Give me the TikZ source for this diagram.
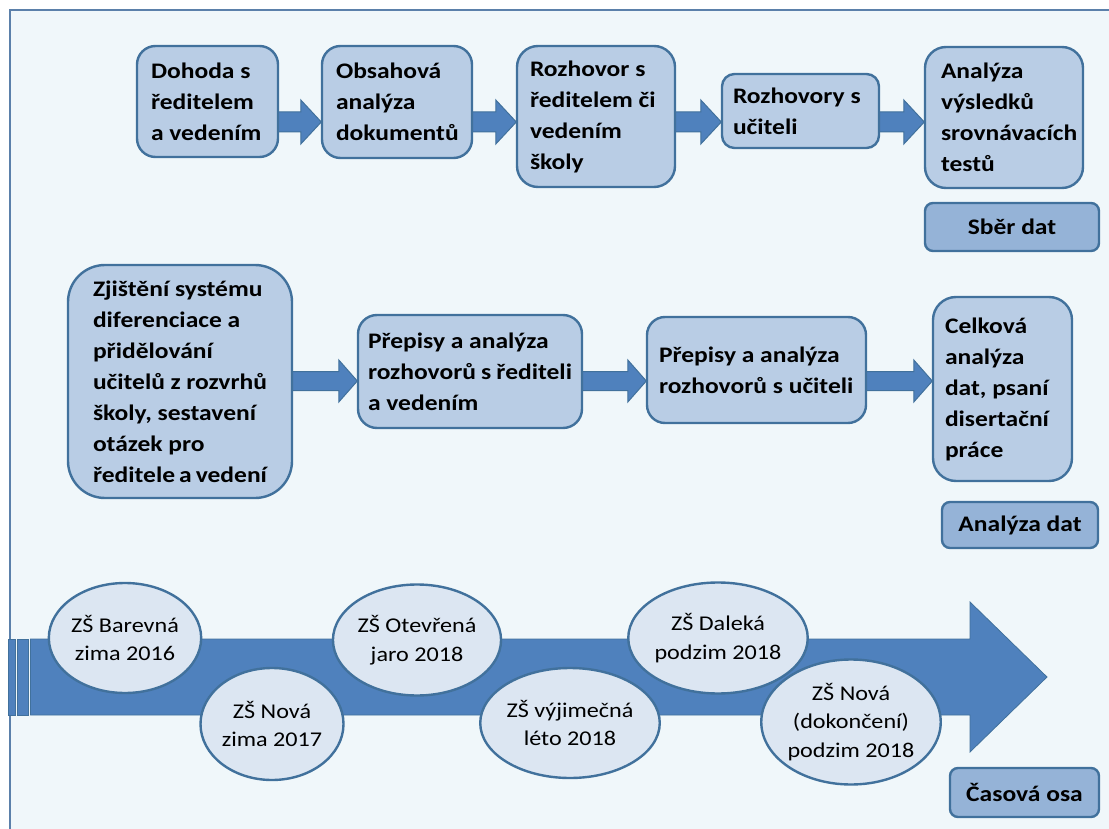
\documentclass[tikz,border=0pt]{standalone}
\usepackage{fontspec}
\setmainfont{Carlito}[FakeStretch=1.15]
\usetikzlibrary{shapes.geometric,calc}
\definecolor{bgcol}{HTML}{F0F7FA}
\definecolor{framecol}{HTML}{5B80AA}
\definecolor{boxfill}{HTML}{B9CDE5}
\definecolor{boxline}{HTML}{41719C}
\definecolor{tagfill}{HTML}{95B3D7}
\definecolor{arrfill}{HTML}{4F81BD}
\definecolor{arrline}{HTML}{41719C}
\definecolor{ellfill}{HTML}{DCE6F2}
\pgfdeclarelayer{bg}
\pgfdeclarelayer{arr}
\pgfsetlayers{bg,arr,main}
\tikzset{
  stepbox/.style={draw=boxline, fill=boxfill, line width=2.4pt, inner sep=0pt,
    align=flush left, font={\fontsize{22.2}{31}\selectfont\bfseries}, text=black},
  tagbox/.style={stepbox, fill=tagfill, align=flush center},
  school/.style={ellipse, draw=boxline, fill=ellfill, line width=2.4pt, inner sep=0pt,
    align=flush center, font={\fontsize{21}{28.5}\selectfont}, text=black},
  barrow/.style={fill=arrfill, draw=arrline, line width=1pt, line join=miter},
  tlarrow/.style={fill=arrfill, draw=arrline, line width=0.8pt, line join=miter},
}
% block arrow: from node, to node, level coordinate, shaft half, head half, head length
\newcommand\blockarrow[6]{%
  \begin{pgfonlayer}{arr}
  \draw[barrow] ($(#1.east |- #3)+(-4,-#4)$) -- ($(#2.west |- #3)+(-#6,-#4)$)
    -- ($(#2.west |- #3)+(-#6,-#5)$) -- ($(#2.west |- #3)+(0.5,0)$)
    -- ($(#2.west |- #3)+(-#6,#5)$) -- ($(#2.west |- #3)+(-#6,#4)$)
    -- ($(#1.east |- #3)+(-4,#4)$) -- cycle;
  \end{pgfonlayer}}
\begin{document}
\begin{tikzpicture}[x=1pt,y=-1pt]
\useasboundingbox (0,0) rectangle (1109,829);
\begin{pgfonlayer}{bg}
  \fill[white] (0,0) rectangle (1109,829);
  \fill[bgcol] (10,10) rectangle (1109,829);
  \draw[framecol, line width=1.6pt] (10,829) -- (10,10) -- (1109,10);
\end{pgfonlayer}

% level coordinates for arrows
\coordinate (r1) at (0,122);
\coordinate (r2) at (0,381);

% row 1
\node[stepbox, minimum width=141, minimum height=111, text width=113, rounded corners=18.5] (b1) at (207.5,101.5)
  {Dohoda~s\\ředitelem\\a~vedením};
\node[stepbox, minimum width=150, minimum height=112, text width=122, rounded corners=18.5] (b2) at (397,102)
  {Obsahová\\analýza\\dokumentů};
\node[stepbox, minimum width=158, minimum height=141, text width=132, rounded corners=21] (b3) at (596,116.5)
  {Rozhovor~s\\ředitelem~či\\vedením\\školy};
\node[stepbox, minimum width=157, minimum height=74, text width=135, rounded corners=12.5] (b4) at (800.5,111)
  {Rozhovory~s\\učiteli};
\node[stepbox, minimum width=158, minimum height=141, text width=126, rounded corners=21] (b5) at (1004,117.5)
  {Analýza\\výsledků\\srovnávacích\\testů};
\node[tagbox, minimum width=174, minimum height=48, rounded corners=8] (t1) at (1012,227) {Sběr dat};

\blockarrow{b1}{b2}{r1}{10}{22}{20}
\blockarrow{b2}{b3}{r1}{10}{22}{20}
\blockarrow{b3}{b4}{r1}{10}{22}{20}
\blockarrow{b4}{b5}{r1}{10}{22}{20}

% row 2
\node[stepbox, minimum width=224, minimum height=233, text width=174, rounded corners=37] (b6) at (180,381.5)
  {Zjištění~systému\\diferenciace~a\\přidělování\\učitelů~z~rozvrhů\\školy,~sestavení\\otázek~pro\\ředitele~a~vedení};
\node[stepbox, minimum width=224, minimum height=113, text width=204, rounded corners=19] (b7) at (470,371.5)
  {Přepisy~a~analýza\\rozhovorů~s~řediteli\\a~vedením};
\node[stepbox, minimum width=219, minimum height=106, text width=195, rounded corners=18] (b8) at (756.5,370)
  {Přepisy~a~analýza\\rozhovorů~s~učiteli};
\node[stepbox, minimum width=139, minimum height=184, text width=115, rounded corners=23] (b9) at (1002.5,389)
  {Celková\\analýza\\dat,~psaní\\disertační\\práce};
\node[tagbox, minimum width=156, minimum height=46, rounded corners=8] (t2) at (1020,525) {Analýza dat};

\blockarrow{b6}{b7}{r2}{9.5}{21}{18}
\blockarrow{b7}{b8}{r2}{9.5}{21}{18}
\blockarrow{b8}{b9}{r2}{9.5}{21}{18}

% timeline
\draw[tlarrow] (8,639) rectangle (15.5,715);
\draw[tlarrow] (17.5,639) rectangle (28.5,715);
\draw[tlarrow] (30.5,639) -- (970,639) -- (970,602) -- (1047,677) -- (970,752) -- (970,715) -- (30.5,715) -- cycle;

\node[school, minimum width=140, minimum height=110] (e1) at (125,638) {ZŠ Barevná\\zima 2016};
\node[school, minimum width=143, minimum height=112] (e2) at (272,724) {ZŠ Nová\\zima 2017};
\node[school, minimum width=141, minimum height=111] (e3) at (417,640) {ZŠ Otevřená\\jaro 2018};
\node[school, minimum width=145, minimum height=110] (e4) at (570,723) {ZŠ výjimečná\\léto 2018};
\node[school, minimum width=143, minimum height=111] (e5) at (718,638) {ZŠ Daleká\\podzim 2018};
\node[school, minimum width=147, minimum height=125] (e6) at (851,722) {ZŠ Nová\\(dokončení)\\podzim 2018};

\node[tagbox, minimum width=149, minimum height=49, rounded corners=8] (t3) at (1024.5,792.5) {Časová osa};
\end{tikzpicture}
\end{document}
